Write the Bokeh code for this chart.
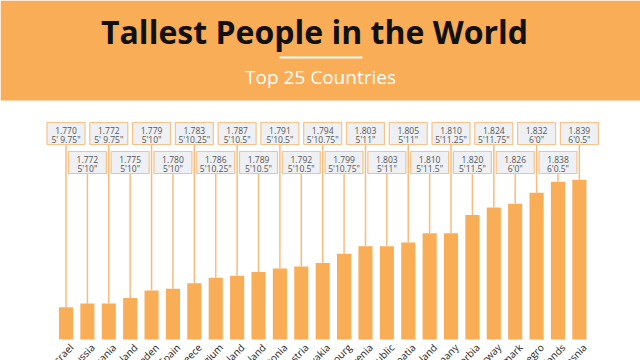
import numpy as np
from bokeh.plotting import figure
from bokeh.models import Range1d
from bokeh.core.properties import value
from bokeh.embed import file_html
from bokeh.resources import INLINE

# ---- data ----
countries = ["Israel", "Russia", "Lithuania", "Finland", "Sweden", "Spain", "Greece",
             "Belgium", "Ireland", "Poland", "Estonia", "Austria", "Slovakia",
             "Luxembourg", "Slovenia", "Czech Republic", "Croatia", "Iceland",
             "Germany", "Serbia", "Norway", "Denmark", "Montenegro", "Netherlands",
             "Bosnia"]
heights_m = [1.770, 1.772, 1.772, 1.775, 1.779, 1.780, 1.783, 1.786, 1.787, 1.789,
             1.791, 1.792, 1.794, 1.799, 1.803, 1.803, 1.805, 1.810, 1.810, 1.820,
             1.824, 1.826, 1.832, 1.838, 1.839]
heights_ft = ["5' 9.75\"", "5'10\"", "5' 9.75\"", "5'10\"", "5'10\"", "5'10\"",
              "5'10.25\"", "5'10.25\"", "5'10.5\"", "5'10.5\"", "5'10.5\"", "5'10.5\"",
              "5'10.75\"", "5'10.75\"", "5'11\"", "5'11\"", "5'11\"", "5'11.5\"",
              "5'11.25\"", "5'11.5\"", "5'11.75\"", "6'0\"", "6'0\"", "6'0.5\"", "6'0.5\""]
title_text = "Tallest People in the World"
subtitle_text = "Top 25 Countries"

# ---- layout ----
W, H = 640, 360
PITCH = 21.39          # px per bar slot
FIRST = 65.5           # px centre of first bar
BASE = 1.7525          # baseline value of bars
PX_PER_M = 1846.0
BAR_BOTTOM_PY = 339.0

ORANGE = "#F9AD57"
BOX_FILL = "#EEF0F3"
BOX_LINE = "#F6C38A"
LEADER = "#F7BD7C"

x_start = -FIRST / PITCH
x_end = x_start + W / PITCH

def m_of_py(py):
    return BASE + (BAR_BOTTOM_PY - py) / PX_PER_M

p = figure(width=W, height=H, output_backend="svg", toolbar_location=None,
           x_range=Range1d(x_start, x_end),
           y_range=Range1d(m_of_py(H), m_of_py(0)),
           x_axis_location=None, y_axis_location=None, min_border=0)
p.extra_x_ranges = {"px": Range1d(0, W)}
p.extra_y_ranges = {"py": Range1d(H, 0)}
p.grid.visible = False
p.outline_line_color = None
p.background_fill_color = "white"
p.border_fill_color = "white"

# header band
p.quad(left=0, right=W, top=0, bottom=100, fill_color=ORANGE, line_color=None,
       x_range_name="px", y_range_name="py")
p.text(x=[314], y=[31], text=[title_text], text_font=value("Open Sans"),
       text_font_style="bold", text_font_size="32px", text_color="#111111",
       text_align="center", text_baseline="middle",
       x_range_name="px", y_range_name="py")
p.segment(x0=[279], y0=[57], x1=[362], y1=[57], line_color="white", line_width=2,
          x_range_name="px", y_range_name="py")
p.text(x=[320], y=[76], text=[subtitle_text], text_font=value("Open Sans"),
       text_font_size="19px", text_color="white",
       text_align="center", text_baseline="middle",
       x_range_name="px", y_range_name="py")

idx = list(range(len(countries)))
up = [i for i in idx if i % 2 == 0]
lo = [i for i in idx if i % 2 == 1]

BOX_W = 38.0 / PITCH
rows = [(up, 133.0), (lo, 162.0)]

# leader lines
for ids, cy in rows:
    p.segment(x0=ids, y0=[heights_m[i] for i in ids], x1=ids,
              y1=[m_of_py(cy + 11)] * len(ids), line_color=LEADER, line_width=1.5)

# bars
p.vbar(x=idx, bottom=BASE, top=heights_m, width=0.66, fill_color=ORANGE, line_color=None)

# label boxes
for ids, cy in rows:
    p.rect(x=ids, y=[cy] * len(ids), width=BOX_W, height=22, fill_color=BOX_FILL,
           line_color=BOX_LINE, line_width=1.2, y_range_name="py")
    p.text(x=ids, y=[cy - 3.5] * len(ids), text=["%.3f" % heights_m[i] for i in ids],
           text_font=value("Open Sans"), text_font_size="8.5px", text_color="#555555",
           text_align="center", text_baseline="middle", y_range_name="py")
    p.text(x=ids, y=[cy + 6] * len(ids), text=[heights_ft[i] for i in ids],
           text_font=value("Open Sans"), text_font_size="8.5px", text_color="#555555",
           text_align="center", text_baseline="middle", y_range_name="py")

# country labels
p.text(x=[i + 0.25 for i in idx], y=[345] * len(idx), text=countries,
       angle=np.pi / 4, text_font=value("Open Sans"), text_font_size="10px",
       text_color="#222222", text_align="right", text_baseline="middle",
       y_range_name="py")

open("out.html", "w").write(file_html(p, INLINE))
